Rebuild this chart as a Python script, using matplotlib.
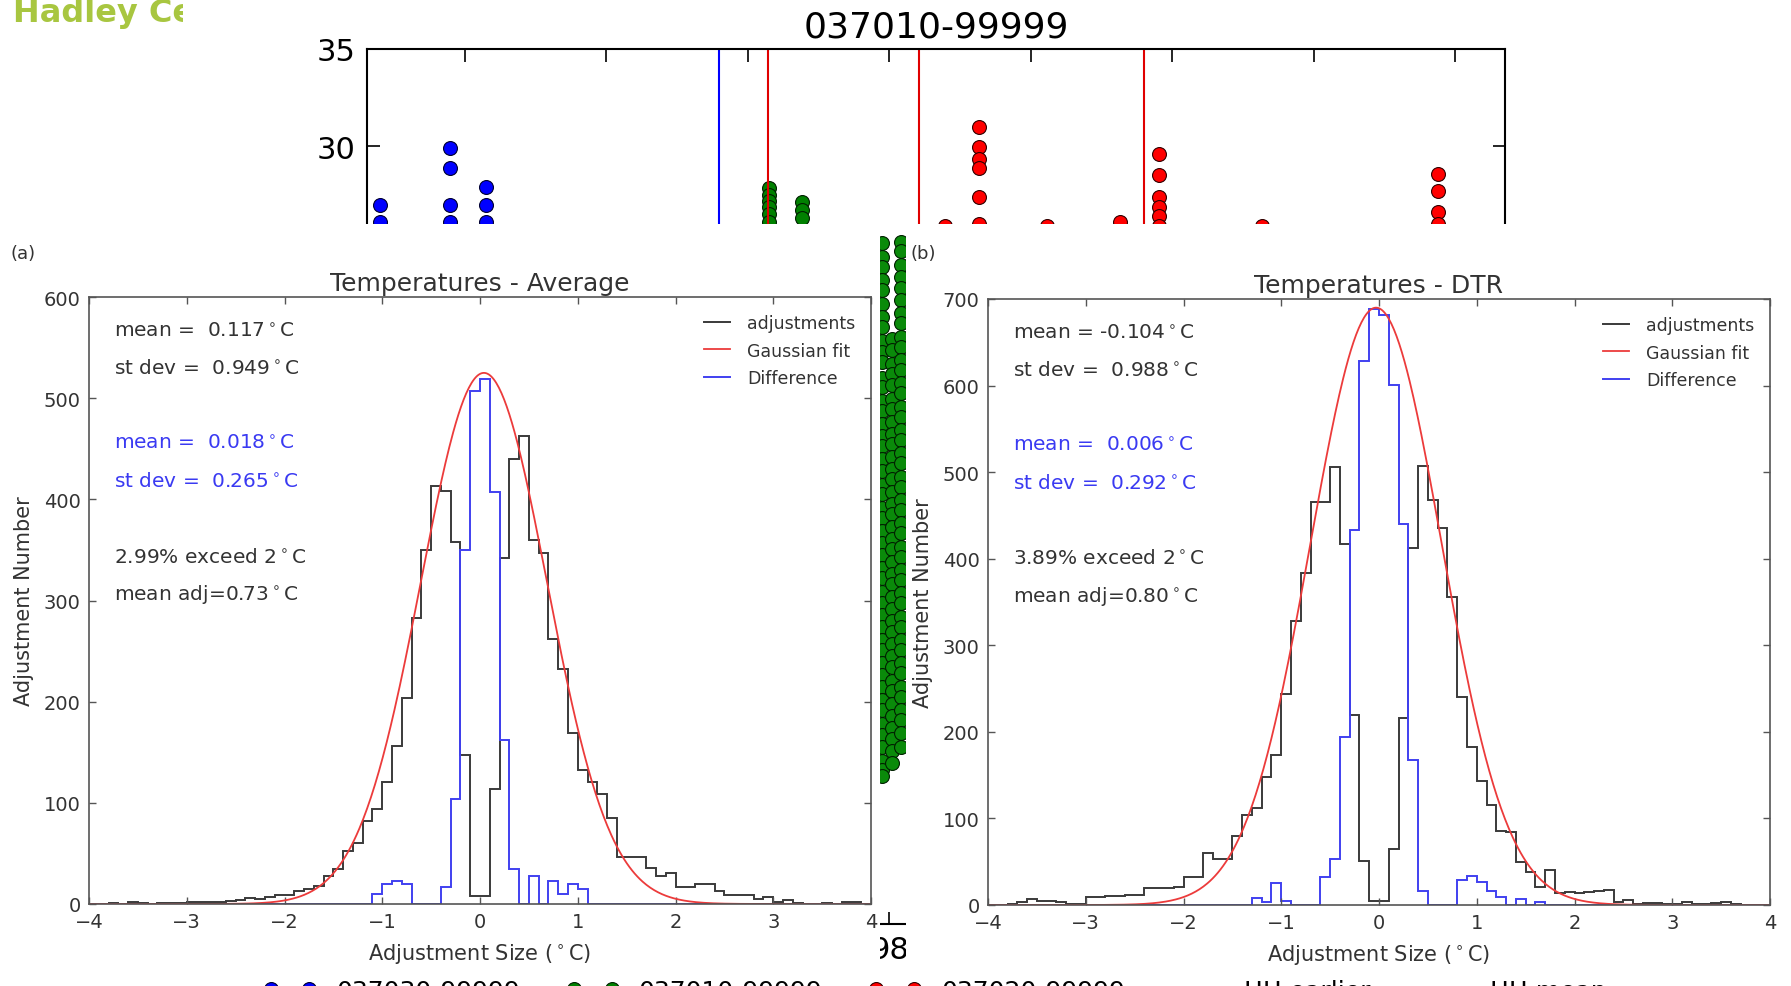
import numpy as np
import matplotlib.pyplot as plt
from matplotlib.transforms import Bbox

W, H = 1791, 987

# ---- top scatter (station temperatures), only a strip of it is visible ----
sc_title = '037010-99999'
sc_labels = ['037030-99999', '037010-99999', '037020-99999', 'HH earlier', 'HH mean']
year_ticks = [1992, 1994, 1996, 1998, 2000, 2002, 2004, 2006]
year_labels = ['92', '94', '96', '98', '00', '02', '04', '06']
temp_ticks = [-10, -5, 0, 5, 10, 15, 20, 25, 30, 35]

blue_x = [1990.80, 1990.80, 1991.79, 1991.79, 1991.79, 1991.79, 1992.29, 1992.29, 1992.29, 1995.32]
blue_y = [27.0, 26.1, 29.9, 28.9, 27.0, 26.1, 27.9, 27.0, 26.1, 25.65]
green_x = [1996.30, 1996.30, 1996.30, 1996.30, 1996.30, 1996.30, 1996.77, 1996.77, 1996.77]
green_y = [27.85, 27.5, 27.2, 26.9, 26.5, 26.1, 27.15, 26.7, 26.3]
red_x = [1998.78, 1999.26, 1999.26, 1999.26, 1999.26, 1999.26, 1999.26, 2000.22, 2001.26,
         2001.81, 2001.81, 2001.81, 2001.81, 2001.81, 2001.81, 2003.27, 2004.76,
         2005.75, 2005.75, 2005.75, 2005.75]
red_y = [25.9, 31.0, 29.95, 29.35, 28.9, 27.4, 26.0, 25.9, 26.1,
         29.6, 28.5, 27.4, 26.9, 26.4, 25.9, 25.9, 25.6,
         28.55, 27.7, 26.6, 26.0]
blue_breaks = [1995.59]
red_breaks = [1996.28, 1998.42, 2001.60]

# the dense green column that shows between the two panels
strip_x = [1997.90, 1998.03, 1998.16]
strip_y = [
    [25.0, 24.3, 23.8, 23.1, 22.6, 21.9, 21.2, 20.7, 20.0, 19.4, 18.9, 18.1, 17.6, 16.9, 16.4,
     15.7, 15.1, 14.6, 13.9, 13.3, 12.6, 12.1, 11.4, 10.9, 10.2, 9.6, 9.0, 8.3, 7.8, 7.1, 6.5,
     5.9, 5.3, 4.6, 4.1, 3.4, 2.8, 2.2, 1.5, 1.0, 0.3, -0.3, -0.9, -1.6, -2.1, -2.4],
    [20.1, 19.5, 18.8, 18.3, 17.7, 17.0, 16.5, 15.8, 15.2, 14.7, 14.0, 13.4, 12.9, 12.2, 11.6,
     11.1, 10.4, 9.8, 9.3, 8.6, 8.0, 7.5, 6.8, 6.2, 5.6, 5.0, 4.4, 3.8, 3.2, 2.5, 2.0, 1.3,
     0.7, 0.1, -0.5, -1.1, -1.7],
    [25.1, 24.6, 23.9, 23.3, 22.7, 22.1, 21.4, 20.9, 20.2, 19.7, 19.0, 18.5, 17.8, 17.3, 16.6,
     16.1, 15.4, 14.9, 14.2, 13.7, 13.0, 12.5, 11.8, 11.3, 10.6, 10.1, 9.4, 8.9, 8.2, 7.7, 7.0,
     6.5, 5.8, 5.3, 4.6, 4.1, 3.4, 2.9, 2.2, 1.7, 1.0, 0.5, -0.2, -0.9],
]

# ---- histogram panels ----
edges = np.round(np.arange(-40, 41) / 10.0, 1)

adj_avg = [0, 0, 1, 0, 2, 1, 0, 1, 1, 1,
           2, 2, 2, 2, 3, 4, 6, 5, 7, 9,
           9, 13, 15, 18, 28, 35, 52, 60, 82, 94,
           121, 156, 204, 283, 350, 413, 408, 358, 147, 8,
           8, 114, 342, 440, 463, 360, 347, 262, 232, 169,
           132, 121, 109, 85, 46, 46, 46, 36, 28, 31,
           17, 17, 20, 20, 13, 9, 9, 9, 5, 7,
           2, 4, 1, 0, 0, 1, 0, 2, 2, 0]
diff_avg = [0, 0, 0, 0, 0, 0, 0, 0, 0, 0,
            0, 0, 0, 0, 0, 0, 0, 0, 0, 0,
            0, 0, 0, 0, 0, 0, 0, 0, 0, 10,
            20, 23, 20, 0, 0, 0, 17, 104, 350, 507,
            519, 407, 162, 35, 0, 28, 0, 23, 10, 20,
            15, 0, 0, 0, 0, 0, 0, 0, 0, 0,
            0, 0, 0, 0, 0, 0, 0, 0, 0, 0,
            0, 0, 0, 0, 0, 0, 0, 0, 0, 0]
adj_dtr = [0, 0, 1, 3, 7, 5, 5, 4, 1, 1,
           9, 9, 10, 10, 11, 12, 20, 20, 20, 21,
           32, 32, 60, 53, 53, 80, 104, 112, 148, 173,
           244, 328, 383, 466, 466, 506, 417, 219, 51, 5,
           5, 65, 216, 412, 507, 468, 435, 356, 240, 183,
           143, 116, 85, 84, 50, 38, 21, 40, 14, 15,
           14, 15, 16, 17, 3, 6, 1, 2, 2, 1,
           1, 3, 1, 1, 2, 3, 1, 0, 0, 0]
diff_dtr = [0, 0, 0, 0, 0, 0, 0, 0, 0, 0,
            0, 0, 0, 0, 0, 0, 0, 0, 0, 0,
            0, 0, 0, 0, 0, 0, 0, 8, 3, 25,
            5, 0, 0, 0, 32, 53, 194, 433, 628, 688,
            681, 601, 440, 168, 16, 0, 0, 0, 29, 33,
            26, 16, 9, 0, 7, 0, 3, 0, 0, 0,
            0, 0, 0, 0, 0, 0, 0, 0, 0, 0,
            0, 0, 0, 0, 0, 0, 0, 0, 0, 0]

# gaussian fit: peak height, centre, width
fit_avg = (525, 0.04, 0.645)
fit_dtr = (690, -0.03, 0.67)

text_avg = [('mean =  0.117$^\\circ$C', 'k'), ('st dev =  0.949$^\\circ$C', 'k'),
            ('mean =  0.018$^\\circ$C', 'b'), ('st dev =  0.265$^\\circ$C', 'b'),
            ('2.99% exceed 2$^\\circ$C', 'k'), ('mean adj=0.73$^\\circ$C', 'k')]
text_dtr = [('mean = -0.104$^\\circ$C', 'k'), ('st dev =  0.988$^\\circ$C', 'k'),
            ('mean =  0.006$^\\circ$C', 'b'), ('st dev =  0.292$^\\circ$C', 'b'),
            ('3.89% exceed 2$^\\circ$C', 'k'), ('mean adj=0.80$^\\circ$C', 'k')]
text_rows = [0.945, 0.884, 0.760, 0.697, 0.573, 0.511]

DARK = '#333333'
TXT = {'k': '#333333', 'b': '#3a3af2'}


def frac(x0, y0, x1, y1):
    return [x0 / W, 1 - y1 / H, (x1 - x0) / W, (y1 - y0) / H]


def draw_panel(rect, title, adj, diff, fit, ymax, texts):
    ax = fig.add_axes(rect)
    ax.set_zorder(2)
    ax.set_facecolor('white')
    ax.stairs(adj, edges, color='#3a3a3a', lw=1.4, label='adjustments')
    a, mu, sd = fit
    xs = np.linspace(-4, 4, 600)
    ax.plot(xs, a * np.exp(-0.5 * ((xs - mu) / sd) ** 2), color='#ec3b3b', lw=1.3,
            label='Gaussian fit')
    ax.stairs(diff, edges, color='#4040f0', lw=1.4, label='Difference')
    h, l = ax.get_legend_handles_labels()
    order = [l.index('adjustments'), l.index('Gaussian fit'), l.index('Difference')]
    leg = ax.legend([h[i] for i in order], [l[i] for i in order], loc='upper right',
                    bbox_to_anchor=(0.98, 0.972), frameon=False, fontsize=12.5,
                    handlelength=1.5, handletextpad=1.0, labelspacing=0.55,
                    borderpad=0, borderaxespad=0)
    for t in leg.get_texts():
        t.set_color(DARK)
    for (s, c), yy in zip(texts, text_rows):
        ax.text(0.032, yy, s, transform=ax.transAxes, fontsize=14.5, color=TXT[c],
                va='center', ha='left')
    ax.set_xlim(-4, 4)
    ax.set_ylim(0, ymax)
    ax.set_xticks(range(-4, 5))
    ax.set_yticks(range(0, ymax + 1, 100))
    ax.tick_params(direction='in', top=True, right=True, length=5, width=1,
                   color='#555555', labelcolor=DARK, labelsize=14, pad=6)
    for s in ax.spines.values():
        s.set_color('#555555')
        s.set_linewidth(1.2)
    ax.set_title(title, fontsize=18, color=DARK, pad=5)
    ax.set_xlabel('Adjustment Size ($^\\circ$C)', fontsize=15, color=DARK, labelpad=7)
    ax.set_ylabel('Adjustment Number', fontsize=15, color=DARK, labelpad=7)
    return ax


fig = plt.figure(figsize=(W / 100, H / 100), dpi=100)
fig.patch.set_facecolor('white')

ax_sc = fig.add_axes(frac(367, 50, 1505, 925))
ax_sc.set_zorder(0)
pt = dict(ls='none', marker='o', ms=10, mew=0.8)
h_blue, = ax_sc.plot(blue_x, blue_y, mfc='#0000ff', mec='#000030', **pt)
h_green, = ax_sc.plot(green_x, green_y, mfc='#008000', mec='#002000', **pt)
for sx, sy in zip(strip_x, strip_y):
    ax_sc.plot([sx] * len(sy), sy, mfc='#0a8a0a', mec='#002000', **pt)
h_red, = ax_sc.plot(red_x, red_y, mfc='#ff0000', mec='#300000', **pt)
h_bl = ax_sc.axvline(blue_breaks[0], color='#0000ff', lw=1.5)
for b in red_breaks:
    h_rl = ax_sc.axvline(b, color='#e00000', lw=1.5)
ax_sc.set_xlim(1990.615, 2006.70)
ax_sc.set_ylim(-10, 35)
ax_sc.set_xticks(year_ticks)
ax_sc.set_xticklabels(year_labels)
ax_sc.set_yticks(temp_ticks)
ax_sc.tick_params(direction='in', top=True, right=True, length=9, width=1.2,
                  labelsize=22, pad=8, colors='black')
for s in ax_sc.spines.values():
    s.set_linewidth(1.5)
ax_sc.set_title(sc_title, fontsize=26, pad=9)

# legend of the scatter: mostly below the bottom edge, as in the reference
fig.legend([h_blue, h_green, h_red, h_bl, h_rl], sc_labels, loc='center',
           bbox_to_anchor=(0.522, -5 / H), ncol=5, frameon=False, fontsize=18,
           numpoints=2, handlelength=2.12, handletextpad=0.78, columnspacing=1.86)

# the two panels sit on white cards laid over the scatter
for x0, x1 in [(0, 880), (906, W)]:
    fig.patches.append(plt.Rectangle((x0 / W, 1 - 969 / H), (x1 - x0) / W, 744 / H,
                                     transform=fig.transFigure, facecolor='white',
                                     edgecolor='none', zorder=1))

draw_panel(frac(89, 298, 871, 905), 'Temperatures - Average', adj_avg, diff_avg,
           fit_avg, 600, text_avg)
draw_panel(frac(988, 300, 1770, 906), 'Temperatures - DTR', adj_dtr, diff_dtr,
           fit_dtr, 700, text_dtr)

fig.text(11 / W, 1 - 254 / H, '(a)', fontsize=13, color=DARK, va='center', zorder=3)
fig.text(910 / W, 1 - 254 / H, '(b)', fontsize=13, color=DARK, va='center', zorder=3)

logo = fig.text(13 / W, 1 - 22 / H, 'Hadley Centre', fontsize=23, color='#a8c640',
                fontweight='bold', va='baseline', zorder=3)
logo.set_clip_on(True)
logo.set_clip_box(Bbox.from_extents(0, 0, 183, H))

fig.savefig('out.png', dpi=100)
